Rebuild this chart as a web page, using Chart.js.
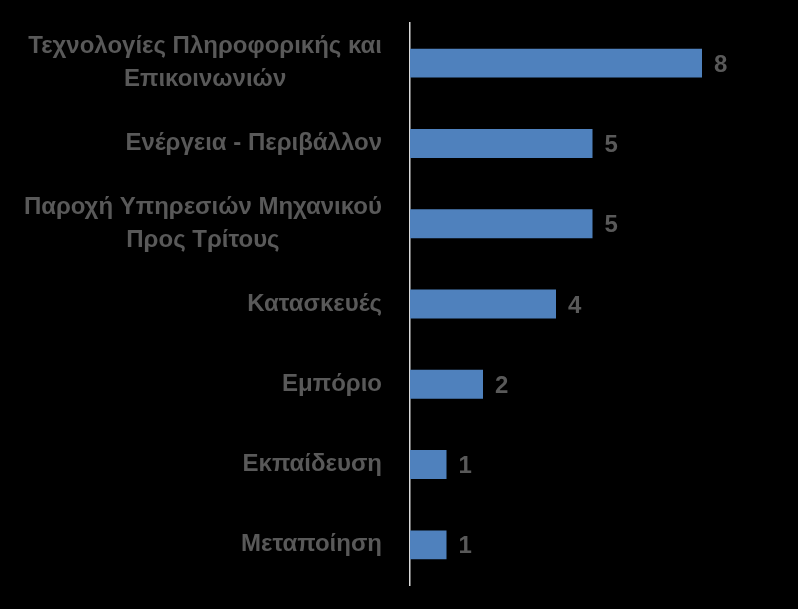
<!DOCTYPE html>
<html>
<head>
<meta charset="utf-8">
<script src="https://cdn.jsdelivr.net/npm/chart.js@4.4.1/dist/chart.umd.min.js"></script>
<style>
    html, body { margin: 0; padding: 0; background: #000; }
    #wrap { width: 798px; height: 609px; position: relative; }
</style>
</head>
<body>
<div id="wrap"><canvas id="chartCanvas"></canvas></div>
<script>
const categories = [
    ['Τεχνολογίες Πληροφορικής και', 'Επικοινωνιών'],
    'Ενέργεια - Περιβάλλον',
    ['Παροχή Υπηρεσιών Μηχανικού', 'Προς Τρίτους'],
    'Κατασκευές',
    'Εμπόριο',
    'Εκπαίδευση',
    'Μεταποίηση'
];
const counts = [8, 5, 5, 4, 2, 1, 1];

const textColor = '#595959';
const fontFamily = "'Liberation Sans', 'DejaVu Sans', sans-serif";
const labelFont = 'bold 24px ' + fontFamily;

// category labels: block right-aligned to the axis, lines centred inside the block
const categoryLabels = {
    id: 'categoryLabels',
    afterDraw(chart) {
        const ctx = chart.ctx;
        const yScale = chart.scales.y;
        const right = yScale.right - 28;
        const lineGap = 33;
        ctx.save();
        ctx.fillStyle = textColor;
        ctx.font = labelFont;
        ctx.textBaseline = 'middle';
        ctx.textAlign = 'center';
        categories.forEach((label, i) => {
            const lines = Array.isArray(label) ? label : [label];
            const blockW = Math.max(...lines.map(l => ctx.measureText(l).width));
            const cx = right - blockW / 2;
            const cy = yScale.getPixelForTick(i);
            lines.forEach((line, j) => {
                const y = cy + (j - (lines.length - 1) / 2) * lineGap;
                ctx.fillText(line, cx, y);
            });
        });
        ctx.restore();
    }
};

// draws the number next to each bar
const valueLabels = {
    id: 'valueLabels',
    afterDatasetsDraw(chart) {
        const ctx = chart.ctx;
        const meta = chart.getDatasetMeta(0);
        ctx.save();
        ctx.fillStyle = textColor;
        ctx.font = labelFont;
        ctx.textBaseline = 'middle';
        ctx.textAlign = 'left';
        meta.data.forEach((bar, i) => {
            ctx.fillText(String(counts[i]), bar.x + 12, bar.y + 2);
        });
        ctx.restore();
    }
};

new Chart(document.getElementById('chartCanvas'), {
    type: 'bar',
    data: {
        labels: categories,
        datasets: [{
            data: counts,
            backgroundColor: '#4F81BD',
            barPercentage: 0.36,
            categoryPercentage: 1
        }]
    },
    options: {
        indexAxis: 'y',
        responsive: true,
        maintainAspectRatio: false,
        animation: false,
        layout: { padding: { top: 23, bottom: 24, left: 0, right: 23 } },
        plugins: {
            legend: { display: false },
            tooltip: { enabled: false }
        },
        scales: {
            x: {
                display: false,
                min: 0,
                max: 10
            },
            y: {
                afterFit(scale) {
                    scale.width = 410;
                    scale.paddingTop = 0;
                    scale.paddingBottom = 0;
                },
                grid: { display: false, drawTicks: false },
                border: { display: true, color: '#d9d9d9', width: 1.5 },
                ticks: {
                    color: 'rgba(0,0,0,0)',
                    padding: 28,
                    font: { family: fontFamily, size: 24, weight: 'bold', lineHeight: 1.38 }
                }
            }
        }
    },
    plugins: [valueLabels, categoryLabels]
});
</script>
</body>
</html>
